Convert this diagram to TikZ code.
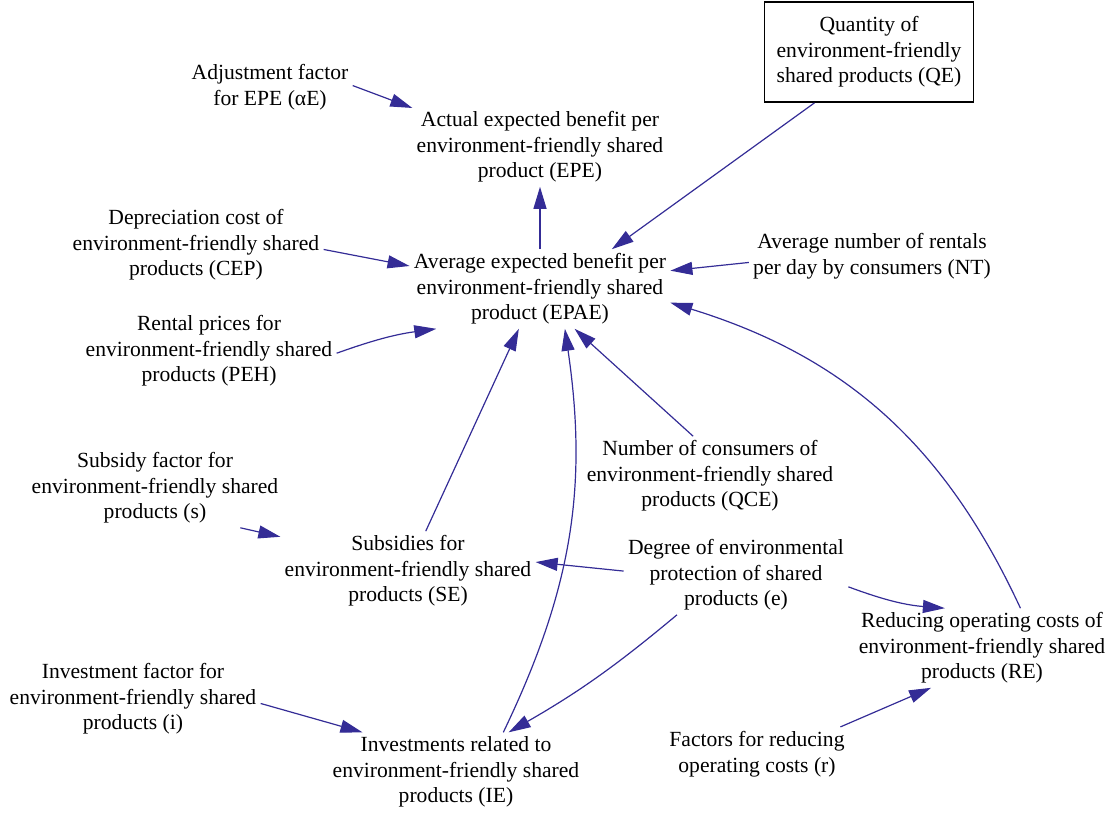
\documentclass[tikz,border=0pt]{standalone}
\usepackage{fontspec}
\setmainfont{Liberation Serif}
\usetikzlibrary{arrows.meta}
\definecolor{linkblue}{RGB}{52,44,150}
\tikzset{
  var/.style={align=center, inner sep=2pt, font=\fontsize{10.8}{12.75}\selectfont},
  link/.style={draw=linkblue, line width=0.6pt, -{Triangle[length=11pt,width=6.5pt]}},
}

\begin{document}
\begin{tikzpicture}[x=0.5pt,y=-0.5pt]
\useasboundingbox (0,0) rectangle (1109,814);

%stock
\node [var, draw, line width=0.9pt, minimum width=104.5pt, minimum height=50pt] (qe) at (869,52) {Quantity of\\environment-friendly\\shared products (QE)};

%benefit
\node [var] (adj) at (270,87) {Adjustment factor\\for EPE (αE)};
\node [var] (epe) at (540,147) {Actual expected benefit per\\environment-friendly shared\\product (EPE)};
\node [var] (epae) at (540,289) {Average expected benefit per\\environment-friendly shared\\product (EPAE)};
\node [var] (cep) at (196,245) {Depreciation cost of\\environment-friendly shared\\products (CEP)};
\node [var] (peh) at (209,351) {Rental prices for\\environment-friendly shared\\products (PEH)};
\node [var] (nt) at (872,256) {Average number of rentals\\per day by consumers (NT)};
\node [var] (qce) at (710,476) {Number of consumers of\\environment-friendly shared\\products (QCE)};

%subsidy
\node [var] (subf) at (155,488) {Subsidy factor for\\environment-friendly shared\\products (s)};
\node [var] (se) at (408,571) {Subsidies for\\environment-friendly shared\\products (SE)};
\node [var] (deg) at (736,575) {Degree of environmental\\protection of shared\\products (e)};

%costs
\node [var] (re) at (982,648) {Reducing operating costs of\\environment-friendly shared\\products (RE)};
\node [var] (rfac) at (757,754) {Factors for reducing\\operating costs (r)};

%investment
\node [var] (invf) at (133,699) {Investment factor for\\environment-friendly shared\\products (i)};
\node [var] (ie) at (456,772) {Investments related to\\environment-friendly shared\\products (IE)};

\draw [link] (adj.1) to (epe.163);
\draw [link] (epae.north) to (epe.south);
\draw [link] (qe.223) to (epae.29);
\draw [link] (cep.-2) to (epae.170);
\draw [link] (nt.183) to (epae.8);
\draw [link] (peh.-1) to [bend left=6] (epae.201);
\draw [link] (re.46) to [bend right=24] (epae.-6);
\draw [link] (qce.113) to (epae.-49);
\draw [link] (se.66) to (epae.242);
\draw [link] (ie.40) to [bend right=17] (epae.-58);

\draw [link] (subf.-25) to (se.165);
\draw [link] (deg.178) to (se.4);
\draw [link] (deg.214) to [bend left=5] (ie.37);
\draw [link] (deg.-6) to [bend right=8] (re.133);
\draw [link] (invf.-2) to (ie.157);
\draw [link] (rfac.18) to (re.218);

\end{tikzpicture}
\end{document}
